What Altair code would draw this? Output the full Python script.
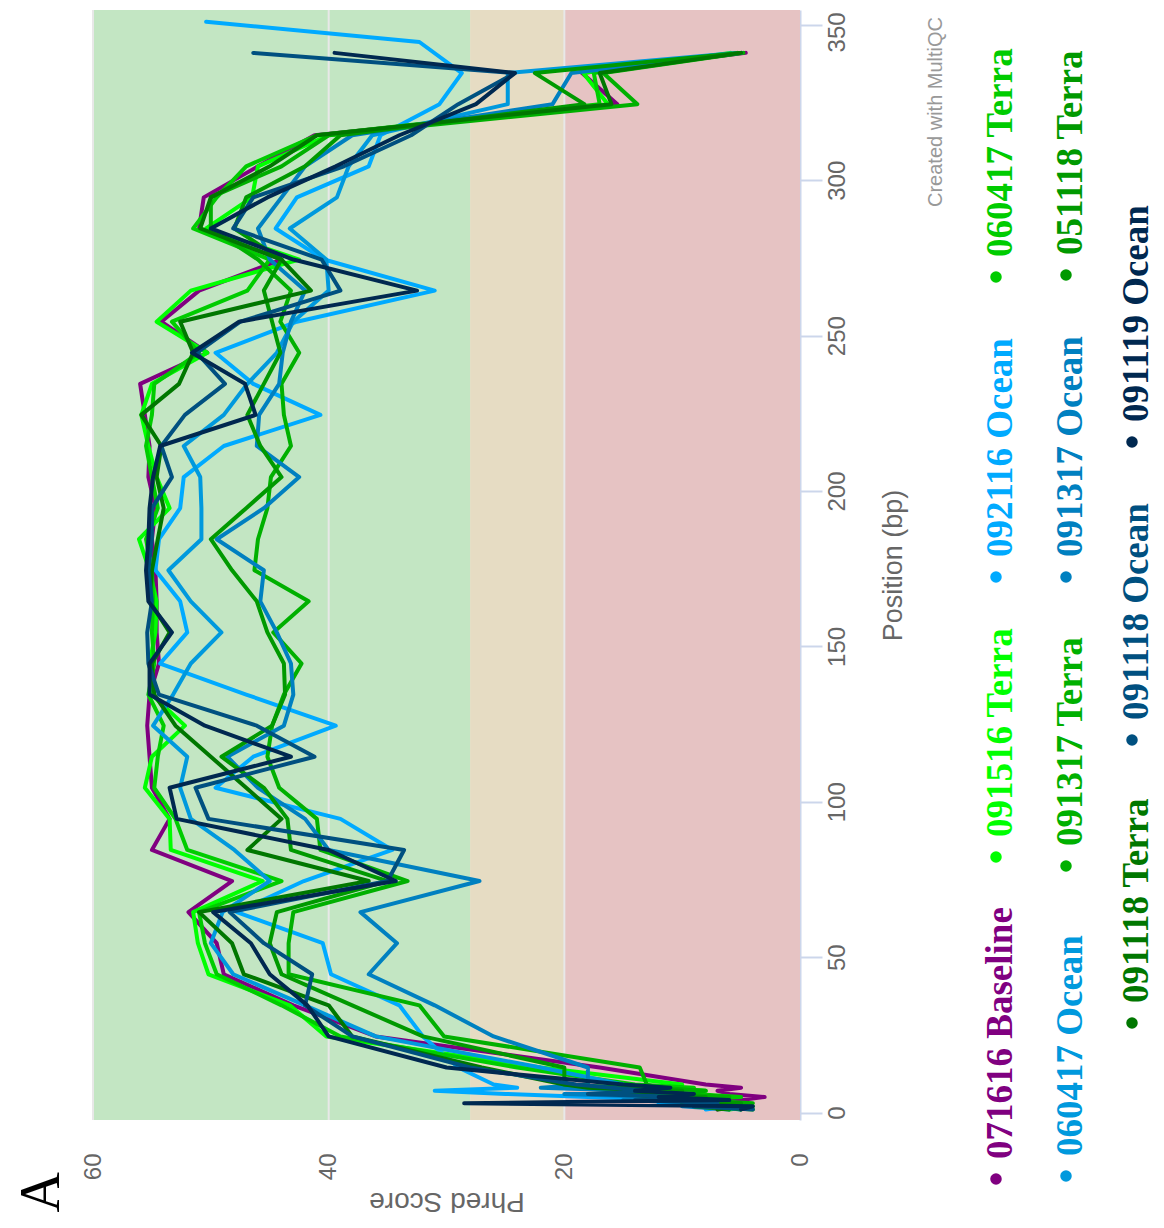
import altair as alt
import pandas as pd

# ---------------- data ----------------
SERIES = ["071616 Baseline", "091516 Terra", "092116 Ocean", "060417 Terra",
          "060417 Ocean", "091317 Terra", "091317 Ocean", "051118 Terra",
          "091118 Terra", "091118 Ocean", "091119 Ocean"]
COLORS = ["#800080", "#00ff00", "#00aaff", "#00cc00", "#0099dd", "#00b000",
          "#0080c0", "#009900", "#007700", "#005080", "#002850"]

POS_COMMON = [1, 2, 3, 4, 5, 6, 7, 8, 9, 14.5, 24.5, 34.5, 44.5, 54.5, 64.5, 74.5,
              84.5, 94.5, 104.5, 114.5, 124.5, 134.5, 144.5, 154.5, 164.5, 174.5,
              184.5, 194.5, 204.5, 214.5, 224.5, 234.5, 244.5, 254.5, 264.5, 274.5,
              284.5, 294.5, 304.5, 314.5, 324.5, 334.5]
POS_STD = POS_COMMON + [341]
POS_LONG = POS_COMMON + [344.5, 351]

Q_071616_BASELINE = [7, 6, 8, 5, 3, 6, 7, 5, 8,
    17, 36, 43, 48.9, 49.5, 51.9, 48.2, 55.0, 53.5, 55.0,
    55.2, 55.4, 55.2, 54.4, 54.6, 54.6, 54.7, 55.0, 54.7, 55.3,
    55.2, 55.6, 56.0, 50.3, 54.2, 51.0, 44.0, 51.0, 50.6, 46.0,
    41.2, 15.5, 18.5, 4.6]
Q_091516_TERRA = [6, 4, 5, 9, 7, 10, 8, 11, 10,
    22, 40.2, 43.3, 50.2, 51.1, 51.5, 45.6, 53.4, 53.5, 55.6,
    55.0, 52.2, 55.0, 55.2, 54.7, 54.6, 55.2, 56.1, 53.5, 54.6,
    55.3, 55.9, 55.0, 50.3, 54.6, 51.7, 42.5, 50.4, 46.5, 46.0,
    40.0, 16.3, 18.4, 5.9]
Q_092116_OCEAN = [8, 6, 12, 9, 18, 25, 31, 24, 26,
    29, 32, 34, 39.8, 40.5, 47.8, 42.1, 34.6, 39.0, 49.6,
    46.4, 39.4, 47.0, 54.3, 52.0, 52.6, 54.7, 54.4, 52.6, 52.3,
    48.9, 40.7, 46.4, 49.6, 42.7, 31.0, 40.4, 44.5, 42.7, 36.6,
    35.6, 30.6, 28.7, 32.3, 50.4]
Q_060417_TERRA = [4, 8, 6, 10, 5, 9, 12, 9, 14,
    24, 39, 44, 49.5, 50.5, 51, 44, 52, 53, 54.8,
    54.5, 54, 55.3, 54.8, 55, 54.9, 55, 55.5, 54.5, 55,
    55.5, 55, 54.8, 51, 53.3, 46.9, 45, 51.5, 49.5, 47,
    41, 17, 17.5, 5.3]
Q_060417_OCEAN = [5, 8, 6, 13, 10, 16, 12, 18, 15,
    22, 36, 42, 48.1, 50, 49, 45, 48, 51.7, 52.6,
    52.0, 54.9, 53.2, 51.7, 49.1, 51.7, 53.6, 50.8, 50.8, 50.9,
    52.3, 48.9, 46.9, 44.4, 43, 40, 40.2, 43.3, 39.3, 38.3,
    36.3, 24.8, 24.8, 5.4]
Q_091317_TERRA = [5, 7, 4, 9, 6, 10, 8, 12, 13,
    13.6, 30.2, 32.3, 43.4, 43.4, 43.0, 33.3, 40.7, 41, 44.2,
    45.2, 44.8, 43.8, 42.3, 44.7, 41.7, 46.3, 46, 45.2, 44.9,
    43.2, 43.8, 44, 42.5, 44.1, 43.2, 46, 50, 50, 44,
    40, 13.8, 16.7, 4.8]
Q_091317_OCEAN = [6, 10, 8, 15, 12, 20, 14, 22, 18,
    18, 26, 31, 36.6, 34.2, 37.3, 27.2, 40, 42, 46,
    48.6, 43.8, 43, 43.2, 44.4, 45.8, 45.5, 49.5, 45.5, 42.5,
    46.1, 45.9, 44.2, 43.9, 43.2, 42, 45, 46, 44, 42,
    38, 21, 19.4, 5]
Q_051118_TERRA = [6, 9, 5, 11, 8, 13, 10, 15, 20,
    20, 32, 38, 44, 45, 44.4, 35, 43.2, 43.5, 45.5,
    49.1, 44.8, 43.7, 43.8, 45.2, 46.1, 48.2, 50, 47, 44,
    45.8, 46.9, 45.5, 44.1, 44.8, 45.5, 44, 48, 47, 42,
    39, 18.3, 22.5, 5.2]
Q_091118_TERRA = [7, 5, 10, 8, 12, 15, 12, 18, 20,
    27, 38, 40, 47.2, 48.2, 51.0, 36.6, 46.9, 44, 47,
    50, 53, 54.8, 55, 53.5, 55.2, 55, 54.5, 54, 54.6,
    54.2, 55.9, 52.7, 51.5, 52.6, 41.5, 44, 50.9, 50, 45,
    41, 16, 17, 5]
Q_091118_OCEAN = [4, 9, 7, 14, 10, 18, 13, 16, 19,
    28, 38, 42, 41.4, 45.5, 48.4, 35.0, 33.6, 50.2, 51.3,
    41.2, 46.1, 54.4, 55.3, 55.4, 55.0, 55.3, 55.0, 55.0, 53.3,
    54.2, 52.2, 48.8, 51.2, 47.5, 39.0, 40.6, 48.1, 46.4, 38.7,
    33, 29, 24.2, 46.4]
Q_091119_OCEAN = [5, 4, 28.5, 6, 12, 9, 14, 11, 15,
    30, 40, 41.8, 45, 46.6, 49.8, 34.3, 40, 52.9, 53.5,
    43.2, 50.5, 55.2, 55.2, 53.3, 55.3, 55.5, 55.3, 55.2, 54.9,
    54.3, 46.2, 47.1, 51.6, 47.6, 32.5, 43, 50, 45.2, 39.4,
    34, 27.5, 24.2, 39.5]

VALUES = [Q_071616_BASELINE, Q_091516_TERRA, Q_092116_OCEAN, Q_060417_TERRA,
          Q_060417_OCEAN, Q_091317_TERRA, Q_091317_OCEAN, Q_051118_TERRA,
          Q_091118_TERRA, Q_091118_OCEAN, Q_091119_OCEAN]
POSITIONS = [POS_STD, POS_STD, POS_LONG, POS_STD, POS_STD, POS_STD, POS_STD,
             POS_STD, POS_STD, POS_STD, POS_STD]

BAND_LO = [0, 20, 28]
BAND_HI = [20, 28, 60]
BAND_NAMES = ["poor", "fair", "good"]
BAND_COLORS = ["#e6c3c3", "#e6dcc3", "#c3e6c3"]
GRID_VALUES = [20, 40, 60]
PHRED_TICKS = [0, 20, 40, 60]
POS_TICKS = [0, 50, 100, 150, 200, 250, 300, 350]

# ---------------- layout constants (page pixels) ----------------
PLOT_X0, PLOT_Y0 = 93, 10
W, H = 707, 1110
LEGEND_ROWS = [
    [0, 1, 2, 3],
    [4, 5, 6, 7],
    [8, 9, 10],
]
LEGEND_BULLET_X = [996, 1066, 1132]
LEGEND_ITEM_Y = [[1179, 857, 577, 277], [1176, 866, 577, 275], [1023, 740, 442]]

rows = []
for name, pos, vals in zip(SERIES, POSITIONS, VALUES):
    assert len(pos) == len(vals), name
    for p, v in zip(pos, vals):
        rows.append({"series": name, "pos": p, "phred": v})
df = pd.DataFrame(rows)

xs = alt.Scale(domain=[0, 60], reverse=True, nice=False, zero=False)
ys = alt.Scale(domain=[-2.4, 354.8], nice=False, zero=False)

FONT = "Liberation Sans"
GREY = "#666666"

x_axis = alt.Axis(
    title="Phred Score", orient="bottom", values=PHRED_TICKS, grid=False, ticks=False,
    domain=False, labelAngle=270, labelAlign="right", labelBaseline="middle",
    labelPadding=33, labelFont=FONT, labelFontSize=24, labelColor=GREY,
    labelFlush=False, labelOverlap=False, zindex=1,
    titleAngle=180, titleFont=FONT, titleFontSize=28, titleFontWeight="normal",
    titleColor=GREY, titleX=W / 2, titleY=80, titleAlign="center", titleBaseline="middle",
)
y_axis = alt.Axis(
    title="Position (bp)", orient="right", values=POS_TICKS, grid=False,
    domainColor="#ccd6eb", domainWidth=2, tickColor="#ccd6eb", tickWidth=2, tickSize=22,
    labelAngle=270, labelAlign="center", labelBaseline="top", labelPadding=3,
    labelOffset={"condition": {"test": "datum.value == 350", "value": 7}, "value": 0},
    labelFont=FONT, labelFontSize=24, labelColor=GREY, labelFlush=False, labelOverlap=False,
    titleAngle=270, titleFont=FONT, titleFontSize=27, titleFontWeight="normal",
    titleColor=GREY, titleX=93, titleY=H / 2, titleAlign="center", titleBaseline="middle",
)

bands = alt.Chart(pd.DataFrame({"lo": BAND_LO, "hi": BAND_HI, "band": BAND_NAMES})).mark_rect().encode(
    x=alt.X("lo:Q", scale=xs, axis=x_axis),
    x2="hi:Q",
    fill=alt.Fill("band:N", scale=alt.Scale(domain=BAND_NAMES, range=BAND_COLORS), legend=None),
)

grid = alt.Chart(pd.DataFrame({"g": GRID_VALUES})).mark_rule(color="#e8e8e8", strokeWidth=2).encode(
    x=alt.X("g:Q", scale=xs, axis=x_axis)
)

lines = alt.Chart(df).mark_line(strokeWidth=4, strokeJoin="round", strokeCap="round").encode(
    x=alt.X("phred:Q", scale=xs, axis=x_axis),
    y=alt.Y("pos:Q", scale=ys, axis=y_axis),
    color=alt.Color("series:N", scale=alt.Scale(domain=SERIES, range=COLORS), legend=None),
    order=alt.Order("pos:Q"),
    detail="series:N",
)

one = pd.DataFrame({"k": [0]})

credits = alt.Chart(one).mark_text(
    text="Created with MultiQC", angle=270, align="left", baseline="middle",
    font=FONT, fontSize=20, color="#999999",
).encode(x=alt.value(936 - PLOT_X0), y=alt.value(207 - PLOT_Y0))

panel = alt.Chart(one).mark_text(
    text="A", angle=270, align="right", baseline="alphabetic",
    font="Liberation Serif", fontSize=56, color="#000000",
).encode(x=alt.value(59 - PLOT_X0), y=alt.value(1172 - PLOT_Y0))

legend_layers = []
for r, items in enumerate(LEGEND_ROWS):
    for j, idx in enumerate(items):
        bx = LEGEND_BULLET_X[r] - PLOT_X0
        by = LEGEND_ITEM_Y[r][j] - PLOT_Y0
        legend_layers.append(
            alt.Chart(one).mark_point(filled=True, shape="circle", size=133, opacity=1,
                                      color=COLORS[idx]).encode(x=alt.value(bx), y=alt.value(by))
        )
        legend_layers.append(
            alt.Chart(one).mark_text(
                text=SERIES[idx], angle=270, align="left", baseline="alphabetic",
                font="Liberation Serif", fontSize=37, fontWeight="bold", color=COLORS[idx],
            ).encode(x=alt.value(bx + 16), y=alt.value(by - 20))
        )

chart = alt.layer(bands, grid, lines, credits, panel, *legend_layers).properties(
    width=W, height=H,
    autosize=alt.AutoSizeParams(type="none"),
    padding={"left": PLOT_X0 - 8, "top": PLOT_Y0 - 8, "right": 355, "bottom": 99},
    background="white",
).configure_view(stroke=None)

chart.save("out.html", embed_options={"renderer": "svg", "actions": False})
